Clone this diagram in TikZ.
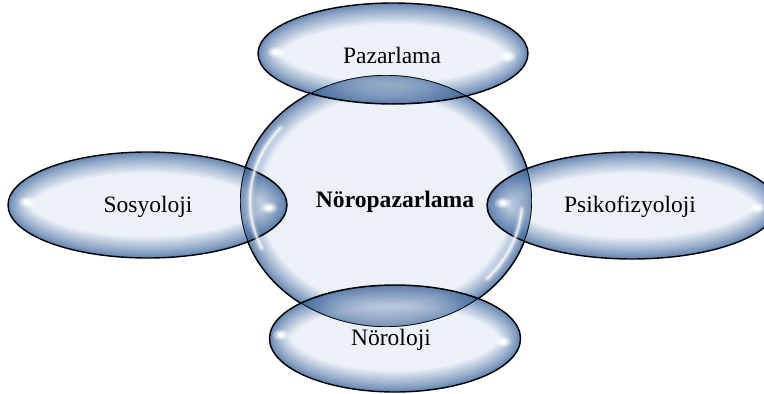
\documentclass[tikz,border=0pt]{standalone}
\usepackage{fontspec}
\setmainfont{Liberation Serif}
\definecolor{bin}{HTML}{ECF1F8}
\definecolor{rimc}{HTML}{2F5C98}
\definecolor{lensc}{HTML}{3F679C}
\tikzset{
  outl/.style={draw=black, line width=1.4pt},
  lbl/.style={anchor=base, inner sep=0pt, font=\fontsize{23.5}{28}\selectfont},
  blbl/.style={lbl, font=\fontsize{23.6}{28}\selectfont\bfseries},
}
\newcommand{\glowring}[5]{%
  \foreach \k in {1,...,30}{%
    \pgfmathsetmacro\w{42*(\k/30)^2}
    \draw[rimc, line width=\w pt, draw opacity=#5] (#1,#2) ellipse [x radius=#3, y radius=#4];}}
\newcommand{\bubble}[4]{%
  \fill[bin] (#1,#2) ellipse [x radius=#3, y radius=#4];
  \begin{scope}
    \clip (#1,#2) ellipse [x radius=#3, y radius=#4];
    \glowring{#1}{#2}{#3}{#4}{0.045}
  \end{scope}
  \draw[outl] (#1,#2) ellipse [x radius=#3, y radius=#4];}
\newcommand{\lens}[4]{%
  \begin{scope}
    \clip (#1,#2) ellipse [x radius=#3, y radius=#4];
    \clip (386,201) ellipse [x radius=146, y radius=126];
    \fill[lensc, opacity=0.27] (386,201) ellipse [x radius=146, y radius=126];
    \glowring{386}{201}{146}{126}{0.025}
    \draw[outl] (386,201) ellipse [x radius=146, y radius=126];
    \draw[outl] (#1,#2) ellipse [x radius=#3, y radius=#4];
  \end{scope}}
\newcommand{\spot}[2]{%
  \fill[white, opacity=0.3] (#1,#2) ellipse [x radius=8, y radius=5.5];
  \fill[white, opacity=0.5] (#1,#2) ellipse [x radius=5.5, y radius=3.8];
  \fill[white, opacity=0.9] (#1,#2) ellipse [x radius=3.2, y radius=2.3];}
\newcommand{\crescent}[2]{%
  \foreach \lw/\op in {8/0.12,5/0.22,3/0.35,1.5/0.6}
    \draw[white, line width=\lw pt, opacity=\op, line cap=round]
      ([shift={(#1:136 and 116)}]386,201) arc [start angle=#1, end angle=#2, x radius=136, y radius=116];}
\begin{document}
\begin{tikzpicture}[x=1pt, y=-1pt]
\useasboundingbox (0,0) rectangle (764,394);
\clip (0,0) rectangle (764,394);
% central circle
\bubble{386}{201}{146}{126}
% satellites
\bubble{393}{53.5}{135}{50.5}
\bubble{147.5}{205}{139.5}{53}
\bubble{632}{205.5}{145}{53.5}
\bubble{395}{338.5}{125.5}{53.5}
% overlaps
\lens{393}{53.5}{135}{50.5}
\lens{147.5}{205}{139.5}{53}
\lens{632}{205.5}{145}{53.5}
\lens{395}{338.5}{125.5}{53.5}
% highlights
\crescent{-141}{-204}
\crescent{4}{42}
\spot{276}{52}\spot{508}{57}
\spot{27}{202}\spot{269}{208}
\spot{503}{203}\spot{757}{208}
\spot{281}{335}\spot{503}{342}
% labels
\node[blbl] (center) at (395,207) {Nöropazarlama};
\node[lbl] (top) at (392,63) {Pazarlama};
\node[lbl] (left) at (148,212) {Sosyoloji};
\node[lbl] (right) at (630,212) {Psikofizyoloji};
\node[lbl] (bottom) at (391,345) {Nöroloji};
\end{tikzpicture}
\end{document}
